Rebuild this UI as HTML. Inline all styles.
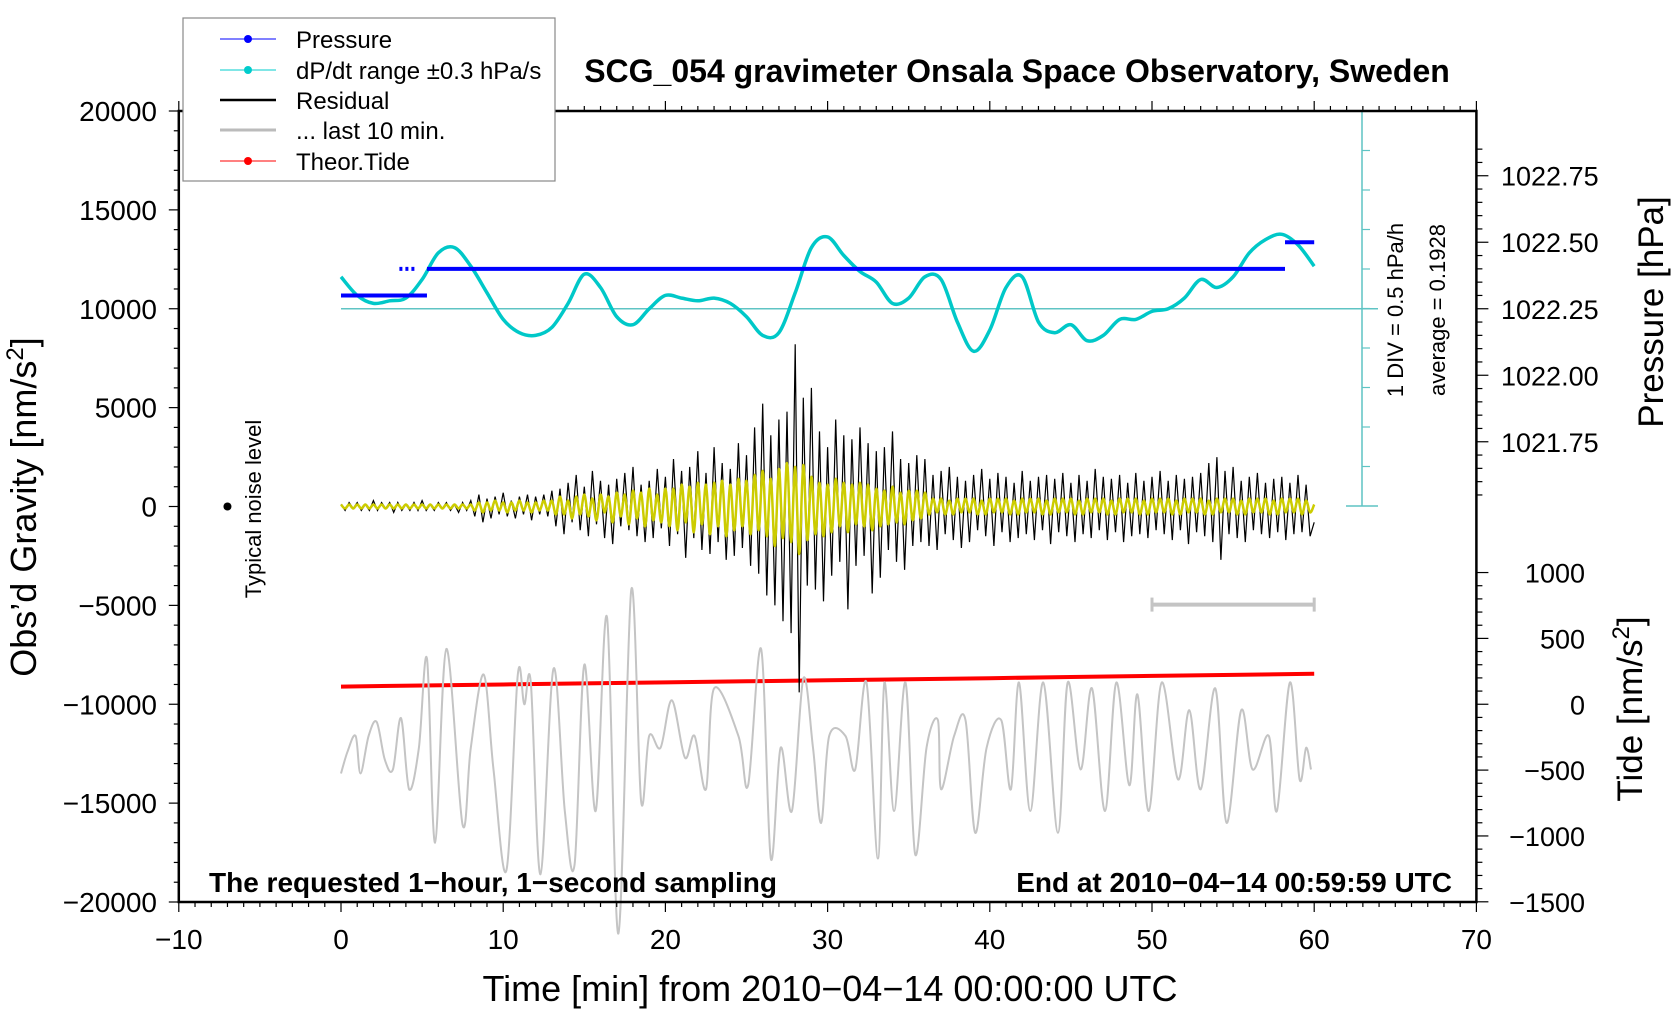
<!DOCTYPE html>
<html><head><meta charset="utf-8"><title>SCG_054 gravimeter</title>
<style>
html,body{margin:0;padding:0;background:#fff;}
svg{display:block;font-family:"Liberation Sans",sans-serif;}
</style></head>
<body>
<svg id="chart" width="1676" height="1020" viewBox="0 0 1676 1020" xmlns="http://www.w3.org/2000/svg">
<rect x="0" y="0" width="1676" height="1020" fill="#fff"/>
<g id="marks"></g>
<g id="axes"></g>
<text x="1017" y="82" font-size="32" font-weight="bold" text-anchor="middle">SCG_054 gravimeter Onsala Space Observatory, Sweden</text>
<text x="209" y="892" font-size="28" font-weight="bold">The requested 1−hour, 1−second sampling</text>
<text x="1452" y="892" font-size="28" font-weight="bold" text-anchor="end">End at 2010−04−14 00:59:59 UTC</text>
<text x="830" y="1001" font-size="36" text-anchor="middle">Time [min] from 2010−04−14 00:00:00 UTC</text>
<text transform="translate(36,507) rotate(-90)" font-size="36" text-anchor="middle">Obs’d Gravity [nm/s<tspan dy="-13" font-size="24">2</tspan><tspan dy="13">]</tspan></text>
<text transform="translate(1663,312) rotate(-90)" font-size="35" text-anchor="middle">Pressure [hPa]</text>
<text transform="translate(1642,709) rotate(-90)" font-size="35" text-anchor="middle">Tide [nm/s<tspan dy="-13" font-size="24">2</tspan><tspan dy="13">]</tspan></text>
<text transform="translate(1403,310) rotate(-90)" font-size="22" text-anchor="middle">1 DIV = 0.5 hPa/h</text>
<text transform="translate(1445,310) rotate(-90)" font-size="22" text-anchor="middle">average = 0.1928</text>
<text transform="translate(261,509) rotate(-90)" font-size="22" text-anchor="middle">Typical noise level</text>
<g>
<rect x="183" y="18" width="372" height="163" fill="#fff" stroke="#888" stroke-width="1.2"/>
<g><line x1="220" y1="39" x2="276" y2="39" stroke="#00f" stroke-width="1"/><circle cx="248" cy="39" r="4" fill="#00f"/><text x="296" y="48" font-size="24">Pressure</text></g>
<g><line x1="220" y1="70" x2="276" y2="70" stroke="#00cccc" stroke-width="1"/><circle cx="248" cy="70" r="4" fill="#00cccc"/><text x="296" y="79" font-size="24">dP/dt range ±0.3 hPa/s</text></g>
<g><line x1="220" y1="100" x2="276" y2="100" stroke="#000" stroke-width="2.5"/><text x="296" y="109" font-size="24">Residual</text></g>
<g><line x1="220" y1="130" x2="276" y2="130" stroke="#bbb" stroke-width="3"/><text x="296" y="139" font-size="24">... last 10 min.</text></g>
<g><line x1="220" y1="161" x2="276" y2="161" stroke="#f00" stroke-width="1"/><circle cx="248" cy="161" r="4" fill="#f00"/><text x="296" y="170" font-size="24">Theor.Tide</text></g>
</g>
</svg>
<script>
// ---- data ----
const xTicks = [-10, 0, 10, 20, 30, 40, 50, 60, 70];
const yTicks = [20000, 15000, 10000, 5000, 0, -5000, -10000, -15000, -20000];
const pressureTicks = [1022.75, 1022.50, 1022.25, 1022.00, 1021.75];
const pressureTickLabels = ["1022.75", "1022.50", "1022.25", "1022.00", "1021.75"];
const tideTicks = [1000, 500, 0, -500, -1000, -1500];
// dP/dt curve (hPa) at each minute 0..60
const dpdtValues = [1022.37,1022.30,1022.27,1022.28,1022.29,1022.36,1022.46,1022.48,1022.41,1022.31,1022.21,1022.16,1022.15,1022.18,1022.27,1022.38,1022.33,1022.22,1022.19,1022.25,1022.30,1022.29,1022.28,1022.29,1022.27,1022.22,1022.15,1022.16,1022.31,1022.48,1022.52,1022.45,1022.39,1022.35,1022.27,1022.29,1022.37,1022.36,1022.20,1022.09,1022.17,1022.33,1022.37,1022.20,1022.16,1022.19,1022.13,1022.15,1022.21,1022.21,1022.24,1022.25,1022.29,1022.36,1022.33,1022.37,1022.46,1022.51,1022.53,1022.49,1022.41];
// pressure steps: start min, end min, hPa
const pressureStart = [0, 3.6, 5.3, 58.2];
const pressureEnd = [5.3, 4.7, 58.2, 60];
const pressureVal = [1022.30, 1022.40, 1022.40, 1022.50];
const pressureAverage = 1022.25;
// residual (x100 nm/s^2), 15 s spacing
const residual = [1,-2,2,-1,2,-2,1,-2,3,-2,2,-1,2,-3,2,-2,1,-2,2,-2,3,-2,1,-2,2,-1,2,-2,1,-3,2,-2,3,
-5,6,-8,4,-6,5,-4,7,-5,3,-6,5,-4,6,-7,5,-4,6,-5,8,
-10,9,-14,12,-8,16,-12,10,-15,18,-9,13,-16,11,-19,14,-10,17,-12,20,-15,11,-18,13,-16,19,-11,15,
-20,24,-14,18,-26,20,-16,28,-22,17,-24,30,-18,22,-27,19,-25,32,-21,26,
-30,40,-34,52,-45,36,-50,44,-58,48,-64,82,-94,55,-40,60,
-42,38,-48,30,-35,44,-28,36,-52,34,-30,40,-25,32,-44,28,-36,30,-22,38,-28,24,-32,22,-20,26,-18,24,
-20,16,-22,18,-14,20,-17,15,-21,13,-18,16,-12,19,-15,14,-20,17,-13,15,-18,12,-16,18,-14,13,-17,15,-12,16,-19,14,-13,17,-15,12,-18,16,-14,13,-16,19,-12,15,-17,14,-13,16,-18,12,-15,17,-14,13,-16,15,-12,18,-14,13,-17,16,-12,14,-19,15,-13,17,-15,22,-18,25,-27,18,-14,20,-16,13,-18,15,-12,17,-14,12,-16,14,-13,15,-17,12,-14,16,-13,11,-15,-8];
// filtered residual (yellow, x100 nm/s^2), 15 s spacing
const filtered = [1,-1,1,-1,1,-1,1,-1,1,-1,1,-1,1,-1,1,-1,1,-1,1,-1,1,-1,1,-1,1,-1,1,-1,1,-1,1,-1,1,
-2,2,-3,2,-2,3,-2,2,-3,2,-2,3,-2,2,-3,2,-2,3,-2,3,
-4,5,-4,3,-6,5,-4,6,-5,4,-7,6,-3,5,-8,7,-5,6,-9,8,-6,7,-10,9,-7,6,-8,9,
-10,9,-12,11,-8,10,-13,12,-9,11,-14,12,-10,13,-15,11,-12,14,-10,13,
-14,16,-12,18,-15,14,-20,19,-16,22,-18,20,-24,21,-17,15,
-14,12,-15,11,-13,14,-10,12,-13,11,-9,12,-10,11,-12,9,-10,8,-9,10,-8,7,-9,8,-7,8,-6,7,
-4,4,-3,4,-4,3,-4,4,-3,4,-3,4,-4,3,-4,4,-3,4,-3,4,-4,3,-4,4,-3,4,-3,4,-4,3,-4,4,-3,4,-3,4,-4,3,-4,4,-3,4,-3,4,-4,3,-4,4,
-3,4,-3,4,-4,3,-4,4,-3,4,-3,4,-4,3,-4,4,-3,4,-3,4,-4,3,-4,4,-3,4,-3,4,-4,3,-4,4,-3,4,-3,4,-4,3,-4,4,-3,4,-3,4,-4,3,-3,1];
// last 10 min trace: times (min) and values (x100 nm/s^2)
const lastTimes = [0,0.4,0.9,1.2,1.7,2.2,2.7,3.2,3.7,4.2,4.8,5.3,5.8,6.5,7.5,8.0,8.8,9.4,10.2,10.9,11.3,11.7,12.3,13.1,13.8,14.4,15.0,15.7,16.4,17.1,17.9,18.5,19.0,19.7,20.4,21.2,21.8,22.5,23.0,24.5,25.1,25.9,26.5,27.1,27.8,28.5,29.1,29.6,30.1,31.1,31.7,32.4,33.1,33.5,34.1,34.8,35.4,36.1,36.8,37.0,37.8,38.5,39.1,39.8,40.7,41.3,41.8,42.5,43.3,44.2,44.8,45.6,46.3,47.1,47.8,48.6,49.1,49.8,50.6,51.6,52.3,53.0,53.9,54.6,55.5,56.2,57.2,57.7,58.5,59.1,59.5,59.8];
const lastValues = [-135,-124,-116,-135,-116,-109,-128,-133,-107,-143,-122,-77,-170,-72,-161,-122,-85,-133,-184,-85,-100,-89,-186,-82,-154,-181,-80,-154,-56,-216,-42,-149,-116,-122,-98,-127,-116,-143,-92,-116,-141,-72,-178,-122,-154,-87,-122,-160,-116,-116,-133,-89,-178,-89,-154,-89,-176,-122,-108,-143,-116,-108,-165,-122,-108,-143,-89,-154,-89,-165,-89,-133,-92,-154,-89,-141,-95,-154,-89,-138,-103,-143,-92,-160,-103,-133,-116,-154,-89,-138,-122,-133];
// theoretical tide (nm/s^2) every 5 min
const tideTimes = [0,5,10,15,20,25,30,35,40,45,50,55,60];
const tideValues = [134,142,150,158,166,174,182,190,198,207,215,223,231];

// ---- scales ----
const X0 = 341, XS = 16.22;
const tx = t => X0 + t * XS;
const gy = v => 111 + (20000 - v) * 791 / 40000;
const py = p => gy(10000 + (p - 1022.25) * 13452);
const ty = T => gy(-10000 + T * 6.66);
const NS = "http://www.w3.org/2000/svg";
const marks = document.getElementById('marks');
const axes = document.getElementById('axes');
function mk(tag, parent, attrs) {
  const e = document.createElementNS(NS, tag);
  for (const k in attrs) e.setAttribute(k, attrs[k]);
  parent.appendChild(e);
  return e;
}
function smoothPath(pts) {
  let d = `M${pts[0][0].toFixed(1)},${pts[0][1].toFixed(1)}`;
  for (let i = 0; i < pts.length - 1; i++) {
    const p0 = pts[Math.max(0, i - 1)], p1 = pts[i], p2 = pts[i + 1], p3 = pts[Math.min(pts.length - 1, i + 2)];
    const c1x = p1[0] + (p2[0] - p0[0]) / 6, c1y = p1[1] + (p2[1] - p0[1]) / 6;
    const c2x = p2[0] - (p3[0] - p1[0]) / 6, c2y = p2[1] - (p3[1] - p1[1]) / 6;
    d += ` C${c1x.toFixed(1)},${c1y.toFixed(1)} ${c2x.toFixed(1)},${c2y.toFixed(1)} ${p2[0].toFixed(1)},${p2[1].toFixed(1)}`;
  }
  return d;
}

const avg = mk('line', marks, {x1: tx(0), x2: 1378, y1: py(pressureAverage), y2: py(pressureAverage), stroke: '#5fc4c4', 'stroke-width': 1.5});



const scaleG = mk('g', marks, {});


mk('line', scaleG, {x1: 1362, x2: 1362, y1: 111, y2: 506, stroke: '#5fc4c4', 'stroke-width': 1.5});
mk('line', scaleG, {x1: 1346, x2: 1378, y1: 111, y2: 111, stroke: '#5fc4c4', 'stroke-width': 1.5});
mk('line', scaleG, {x1: 1346, x2: 1378, y1: 506, y2: 506, stroke: '#5fc4c4', 'stroke-width': 1.5});
for (let i = 1; i < 10; i++) {
  const y = 111 + i * 39.5;
  mk('line', scaleG, {x1: 1362, x2: 1370, y1: y, y2: y, stroke: '#5fc4c4', 'stroke-width': 1.2});
}

const dpPts = dpdtValues.map((v, i) => [tx(i), py(v)]);
const dp = mk('path', marks, {d: smoothPath(dpPts), fill: 'none', stroke: '#00c8c8', 'stroke-width': 3.5});



pressureVal.forEach((v, i) => {
  const s = mk('line', marks, {x1: tx(pressureStart[i]), x2: tx(pressureEnd[i]), y1: py(v), y2: py(v), stroke: '#0000ff', 'stroke-width': 4, 'stroke-dasharray': i === 1 ? '3,3' : 'none'});
  
  
});

const tidePts = tideValues.map((v, i) => `${tx(tideTimes[i]).toFixed(1)},${ty(v).toFixed(1)}`).join(' ');
const tide = mk('polyline', marks, {points: tidePts, fill: 'none', stroke: '#ff0000', 'stroke-width': 4});



const lastPts = lastValues.map((v, i) => [tx(lastTimes[i]), gy(v * 100)]);
const last = mk('path', marks, {d: smoothPath(lastPts), fill: 'none', stroke: '#c4c4c4', 'stroke-width': 2});



const rdt = 60 / (residual.length - 1);
const resPts = residual.map((v, i) => `${tx(i * rdt).toFixed(1)},${gy(v * 100).toFixed(1)}`).join(' ');
const res = mk('polyline', marks, {points: resPts, fill: 'none', stroke: '#000', 'stroke-width': 1.2});



const fdt = 60 / (filtered.length - 1);
const filPts = filtered.map((v, i) => [tx(i * fdt), gy(v * 100)]);
const fil = mk('path', marks, {d: smoothPath(filPts), fill: 'none', stroke: '#cccc00', 'stroke-width': 2.5});



const nm = mk('circle', marks, {cx: tx(-7), cy: gy(0), r: 4, fill: '#000'});


const barG = mk('g', marks, {});


mk('line', barG, {x1: tx(50), x2: tx(60), y1: gy(-4960), y2: gy(-4960), stroke: '#c4c4c4', 'stroke-width': 4});
mk('line', barG, {x1: tx(50), x2: tx(50), y1: gy(-4960) - 7, y2: gy(-4960) + 7, stroke: '#c4c4c4', 'stroke-width': 3});
mk('line', barG, {x1: tx(60), x2: tx(60), y1: gy(-4960) - 7, y2: gy(-4960) + 7, stroke: '#c4c4c4', 'stroke-width': 3});

// ---- axes ----
const L = tx(-10), R = tx(70), T = gy(20000), B = gy(-20000);
const frame = mk('rect', axes, {x: L, y: T, width: R - L, height: B - T, fill: 'none', stroke: '#000', 'stroke-width': 2.5});


for (let t = -10; t <= 70; t++) {
  const major = t % 10 === 0, len = major ? 10 : 5;
  mk('line', axes, {x1: tx(t), x2: tx(t), y1: B, y2: B + len, stroke: '#000', 'stroke-width': 1.2});
  mk('line', axes, {x1: tx(t), x2: tx(t), y1: T, y2: T - len, stroke: '#000', 'stroke-width': 1.2});
}
xTicks.forEach(t => {
  const lb = mk('text', axes, {x: tx(t), y: 949, 'font-size': 28, 'text-anchor': 'middle'});
  lb.textContent = t < 0 ? '−' + Math.abs(t) : String(t);
  
  
});
for (let v = -20000; v <= 20000; v += 1000) {
  const len = v % 5000 === 0 ? 10 : 5;
  mk('line', axes, {x1: L, x2: L - len, y1: gy(v), y2: gy(v), stroke: '#000', 'stroke-width': 1.2});
}
yTicks.forEach(v => {
  const lb = mk('text', axes, {x: 157, y: gy(v) + 10, 'font-size': 28, 'text-anchor': 'end'});
  lb.textContent = v < 0 ? '−' + Math.abs(v) : String(v);
  
  
});
for (let i = 0; i <= 27; i++) {
  const p = 1021.50 + i * 0.05;
  const y = py(p);
  if (y < T || y > gy(0)) continue;
  const major = Math.abs((p * 4) - Math.round(p * 4)) < 1e-6;
  mk('line', axes, {x1: R, x2: R + (major ? 12 : 6), y1: y, y2: y, stroke: '#000', 'stroke-width': 1.2});
}
pressureTicks.forEach((p, i) => {
  const lb = mk('text', axes, {x: 1501, y: py(p) + 10, 'font-size': 27});
  lb.textContent = pressureTickLabels[i];
  
  
});
for (let T2 = -1500; T2 <= 1000; T2 += 100) {
  const major = T2 % 500 === 0;
  mk('line', axes, {x1: R, x2: R + (major ? 12 : 6), y1: ty(T2), y2: ty(T2), stroke: '#000', 'stroke-width': 1.2});
}
tideTicks.forEach(v => {
  const lb = mk('text', axes, {x: 1585, y: ty(v) + 10, 'font-size': 27, 'text-anchor': 'end'});
  lb.textContent = v < 0 ? '−' + Math.abs(v) : String(v);
  
  
});
</script>
</body></html>
